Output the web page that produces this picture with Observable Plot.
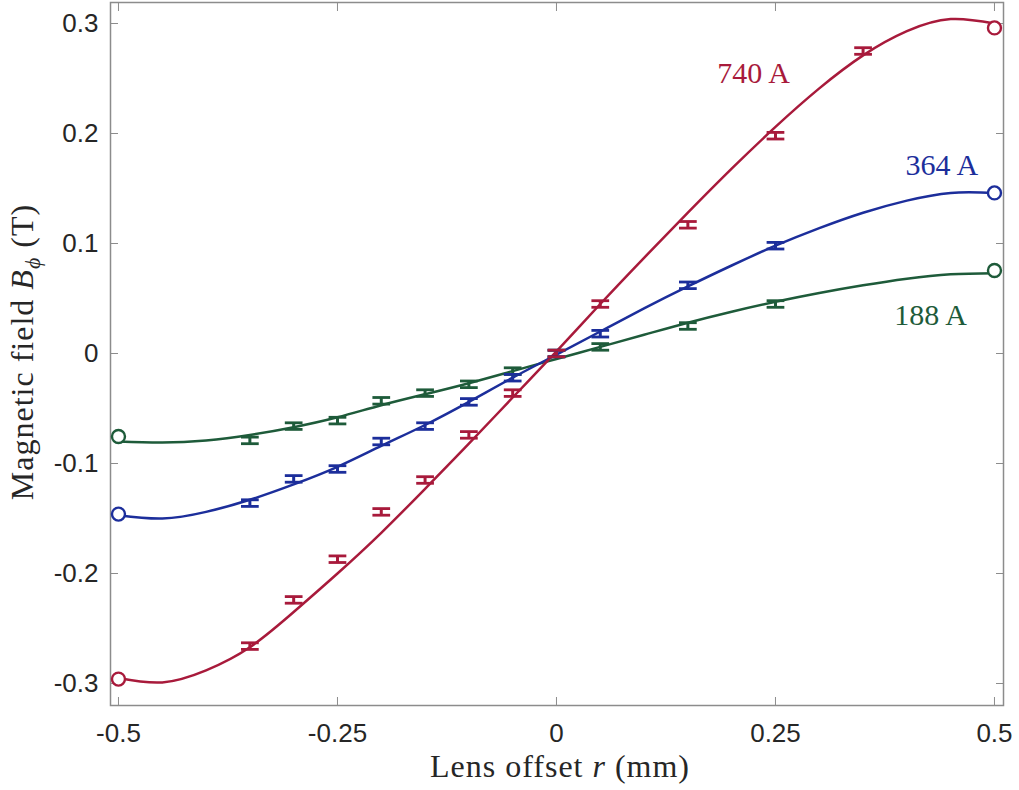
<!DOCTYPE html>
<html>
<head>
<meta charset="utf-8">
<script src="https://cdn.jsdelivr.net/npm/d3@7"></script>
<script src="https://cdn.jsdelivr.net/npm/@observablehq/plot@0.6"></script>
<style>
  body { margin: 0; background: #fff; }
  #chart { width: 1019px; height: 790px; }
</style>
</head>
<body>
<div id="chart"></div>
<script>
// ---- data ----
const seriesNames  = ["740 A", "364 A", "188 A"];
const seriesColors = ["#a81a3b", "#1c2e9b", "#1e5b3a"];

// measured points (with error bars)
const measX      = [-0.35, -0.3, -0.25, -0.2, -0.15, -0.1, -0.05, 0, 0.05, 0.15, 0.25, 0.35];
const measRed    = [-0.266, -0.224, -0.187, -0.144, -0.115, -0.074, -0.036, 0, 0.045, 0.117, 0.198, 0.275];
const measBlue   = [-0.136, -0.114, -0.105, -0.080, -0.066, -0.044, -0.022, 0, 0.018, 0.062, 0.098];
const measGreen  = [-0.079, -0.066, -0.061, -0.043, -0.036, -0.028, -0.016, 0, 0.006, 0.025, 0.045];
const measErr    = 0.003;

// end-point circles
const endX      = [-0.5, 0.5];
const endRed    = [-0.296, 0.296];
const endBlue   = [-0.146, 0.146];
const endGreen  = [-0.0755, 0.0755];

// fitted curves
const fitX     = [-0.5, -0.45, -0.4, -0.35, -0.3, -0.25, -0.2, -0.15, -0.1, -0.05, 0, 0.05, 0.1, 0.15, 0.2, 0.25, 0.3, 0.35, 0.4, 0.45, 0.5];
const fitRed   = [-0.295, -0.299, -0.288, -0.267, -0.235, -0.200, -0.163, -0.123, -0.082, -0.040, 0.002, 0.045, 0.087, 0.128, 0.168, 0.206, 0.241, 0.271, 0.293, 0.304, 0.300];
const fitBlue  = [-0.147, -0.150, -0.144, -0.133, -0.119, -0.103, -0.084, -0.065, -0.044, -0.022, -0.001, 0.020, 0.041, 0.061, 0.080, 0.098, 0.114, 0.128, 0.139, 0.146, 0.146];
const fitGreen = [-0.080, -0.081, -0.079, -0.074, -0.067, -0.058, -0.047, -0.037, -0.027, -0.016, -0.005, 0.006, 0.017, 0.028, 0.038, 0.047, 0.055, 0.062, 0.068, 0.072, 0.073];

// series labels
const labelX = [0.225, 0.44, 0.427];
const labelY = [0.2545, 0.171, 0.0345];

// ticks
const xTicks = [-0.5, -0.25, 0, 0.25, 0.5];
const xTickLabels = ["-0.5", "-0.25", "0", "0.25", "0.5"];
const yTicks = [-0.3, -0.2, -0.1, 0, 0.1, 0.2, 0.3];
const yTickLabels = ["-0.3", "-0.2", "-0.1", "0", "0.1", "0.2", "0.3"];

// ---- build tables ----
const measSets = [measRed, measBlue, measGreen];
const endSets = [endRed, endBlue, endGreen];
const fitSets = [fitRed, fitBlue, fitGreen];

const meas = [], ends = [], fits = [], labels = [];
seriesNames.forEach((s, k) => {
  measSets[k].forEach((v, i) => meas.push({s, x: measX[i], y: v, lo: v - measErr, hi: v + measErr}));
  endSets[k].forEach((v, i) => ends.push({s, x: endX[i], y: v}));
  fitSets[k].forEach((v, i) => fits.push({s, x: fitX[i], y: v}));
  labels.push({s, x: labelX[k], y: labelY[k]});
});
// draw green first, red last
const order = (a) => a.slice().sort((p, q) => seriesNames.indexOf(q.s) - seriesNames.indexOf(p.s));

const capSymbol = {
  draw(context, size) {
    const w = Math.sqrt(size);
    context.moveTo(-w, 0);
    context.lineTo(w, 0);
  }
};

const colorScale = {domain: seriesNames, range: seriesColors};
const gray = "#8c8c8c";
const serif = "'Liberation Serif', 'Times New Roman', serif";

const plot = Plot.plot({
  width: 1019,
  height: 790,
  marginLeft: 110,
  marginRight: 16,
  marginTop: 2,
  marginBottom: 85,
  style: {fontFamily: "'Liberation Sans', Arial, sans-serif", fontSize: "26px", background: "#fff", color: "#262626"},
  x: {domain: [-0.5091, 0.5103], label: null},
  y: {domain: [-0.32, 0.3191], label: null},
  color: colorScale,
  marks: [
    Plot.frame({stroke: gray, strokeWidth: 1.5}),
    Plot.axisX(xTicks, {anchor: "bottom", tickSize: -8, tickPadding: 26, stroke: gray, fill: "#262626",
      tickFormat: (d) => xTickLabels[xTicks.indexOf(d)], label: null}),
    Plot.axisX(xTicks, {anchor: "top", tickSize: -8, stroke: gray, tickFormat: () => "", label: null}),
    Plot.axisY(yTicks, {anchor: "left", tickSize: -8, tickPadding: 20, stroke: gray, fill: "#262626",
      tickFormat: (d) => yTickLabels[yTicks.indexOf(d)], label: null}),
    Plot.axisY(yTicks, {anchor: "right", tickSize: -8, stroke: gray, tickFormat: () => "", label: null}),

    Plot.line(order(fits), {x: "x", y: "y", z: "s", stroke: "s", strokeWidth: 2.5, curve: "natural"}),
    Plot.ruleX(order(meas), {x: "x", y1: "lo", y2: "hi", stroke: "s", strokeWidth: 3}),
    Plot.dot(order(meas), {x: "x", y: "lo", symbol: capSymbol, r: 5, stroke: "s", strokeWidth: 2.8}),
    Plot.dot(order(meas), {x: "x", y: "hi", symbol: capSymbol, r: 5, stroke: "s", strokeWidth: 2.8}),
    Plot.dot(order(ends), {x: "x", y: "y", r: 6.5, stroke: "s", strokeWidth: 2.4, fill: "white"}),
    Plot.text(labels, {x: "x", y: "y", text: "s", fill: "s", fontFamily: serif, fontSize: 30})
  ]
});

// thin space in the series labels ("740 A")
d3.select(plot).selectAll("text").each(function() {
  const t = this.textContent;
  if (/^\d+ A$/.test(t)) this.textContent = t.replace(" ", "\u2009");
});

document.getElementById("chart").appendChild(plot);

// axis titles with mixed styles
const svg = d3.select(plot);
const ylab = svg.append("text")
  .attr("transform", "translate(33,352) rotate(-90)")
  .attr("text-anchor", "middle")
  .attr("font-family", serif)
  .attr("font-size", 32)
  .attr("letter-spacing", 1)
  .attr("fill", "#262626");
ylab.append("tspan").text("Magnetic field ");
ylab.append("tspan").attr("font-style", "italic").text("B");
ylab.append("tspan").attr("font-style", "italic").attr("font-size", 22).attr("dy", 7).text("\u03D5");
ylab.append("tspan").attr("dy", -7).text(" (T)");

const xlab = svg.append("text")
  .attr("x", 560)
  .attr("y", 777)
  .attr("text-anchor", "middle")
  .attr("font-family", serif)
  .attr("font-size", 32)
  .attr("letter-spacing", 1)
  .attr("fill", "#262626");
xlab.append("tspan").text("Lens offset ");
xlab.append("tspan").attr("font-style", "italic").text("r");
xlab.append("tspan").text(" (mm)");
</script>
</body>
</html>
